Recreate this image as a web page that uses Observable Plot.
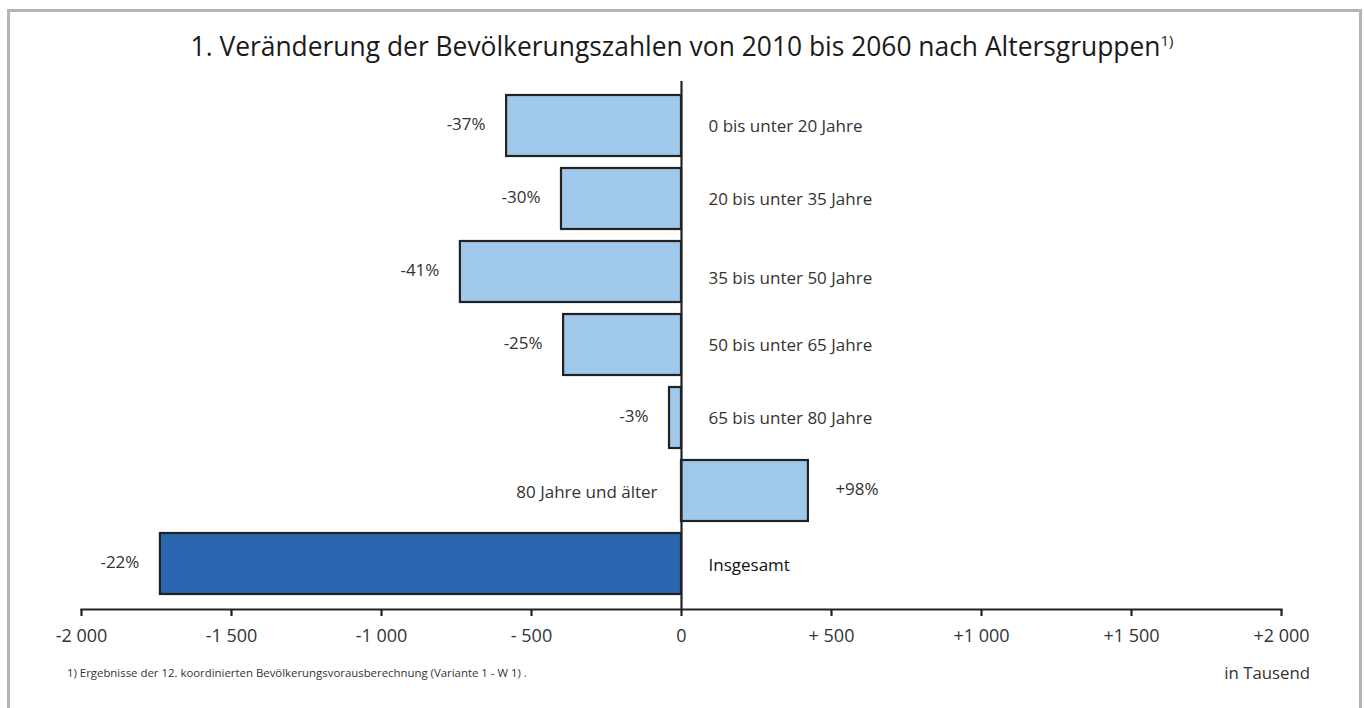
<!DOCTYPE html>
<html>
<head>
<meta charset="utf-8">
<script src="https://cdn.jsdelivr.net/npm/d3@7"></script>
<script src="https://cdn.jsdelivr.net/npm/@observablehq/plot@0.6"></script>
<style>
  html, body { margin: 0; padding: 0; background: #fff; }
  body { width: 1364px; height: 708px; position: relative; overflow: hidden; font-family: "Open Sans", "Noto Sans", sans-serif; color: #222; }
  #frame { position: absolute; left: 7px; top: 9px; width: 1355px; height: 740px; border: 3px solid #b5b5b5; box-sizing: border-box; }
  #title { position: absolute; left: 0; width: 1364px; top: 28px; text-align: center; font-size: 26.4px; color: #1a1a1a; }
  #title sup { font-size: 15px; vertical-align: 10px; }
  #chart { position: absolute; left: 0; top: 0; }
  #foot { position: absolute; left: 67px; top: 665px; font-size: 11.4px; color: #333; }
  #unit { position: absolute; right: 54px; top: 661px; font-size: 16.8px; color: #333; }
</style>
</head>
<body>
<div id="frame"></div>
<div id="title">1. Veränderung der Bevölkerungszahlen von 2010 bis 2060 nach Altersgruppen<sup>1)</sup></div>
<div id="chart"></div>
<div id="foot">1) Ergebnisse der 12. koordinierten Bevölkerungsvorausberechnung (Variante 1 - W 1) .</div>
<div id="unit">in Tausend</div>
<script>
const categories = ["0 bis unter 20 Jahre", "20 bis unter 35 Jahre", "35 bis unter 50 Jahre", "50 bis unter 65 Jahre", "65 bis unter 80 Jahre", "80 Jahre und älter", "Insgesamt"];
const changes = [-583, -400, -737, -393, -40, 423, -1737];
const percents = ["-37%", "-30%", "-41%", "-25%", "-3%", "+98%", "-22%"];
const groups = ["Alter", "Alter", "Alter", "Alter", "Alter", "Alter", "Gesamt"];
const tickValues = [-2000, -1500, -1000, -500, 0, 500, 1000, 1500, 2000];
const tickLabels = ["-2 000", "-1 500", "-1 000", "- 500", "0", "+ 500", "+1 000", "+1 500", "+2 000"];

const data = categories.map((c, i) => ({cat: c, v: changes[i], pct: percents[i], grp: groups[i]}));
const neg = data.filter(d => d.v < 0);
const pos = data.filter(d => d.v >= 0);
const negAge = neg.filter(d => d.grp === "Alter" && d.cat !== categories[2]);
const negAgeLow = neg.filter(d => d.cat === categories[2]);
const negTotal = neg.filter(d => d.grp === "Gesamt");

const txt = {fill: "#333", fontSize: 17};
const chart = Plot.plot({
  width: 1364,
  height: 708,
  marginLeft: 81,
  marginRight: 83,
  marginTop: 81,
  marginBottom: 99,
  style: {fontFamily: "'Open Sans', 'Noto Sans', sans-serif", fontSize: "17px", color: "#333", background: "transparent"},
  x: {domain: [-2000, 2000], label: null},
  y: {domain: categories, padding: 0.16, axis: null},
  color: {domain: ["Alter", "Gesamt"], range: ["#9fc8ea", "#2a67b0"]},
  marks: [
    Plot.barX(data, {x1: 0, x2: "v", y: "cat", fill: "grp", stroke: "#222", strokeWidth: 2.2}),
    Plot.ruleX([0], {stroke: "#222", strokeWidth: 2.2}),
    Plot.frame({anchor: "bottom", stroke: "#222", strokeWidth: 2.2}),
    Plot.axisX({ticks: tickValues, tickSize: 7, tickPadding: 13, strokeWidth: 2.2, stroke: "#222", fontSize: 18, fill: "#333", label: null,
      tickFormat: d => tickLabels[tickValues.indexOf(d)]}),
    // percent labels
    Plot.text(neg, {x: "v", y: "cat", text: "pct", textAnchor: "end", dx: -21, dy: -1, ...txt}),
    Plot.text(pos, {x: "v", y: "cat", text: "pct", textAnchor: "start", dx: 27, dy: -1, ...txt}),
    // category labels
    Plot.text(negAge, {x: 0, y: "cat", text: "cat", textAnchor: "start", dx: 27, dy: 1, ...txt}),
    Plot.text(negAgeLow, {x: 0, y: "cat", text: "cat", textAnchor: "start", dx: 27, dy: 7, ...txt}),
    Plot.text(negTotal, {x: 0, y: "cat", text: "cat", textAnchor: "start", dx: 27, dy: 2, fill: "#111", fontSize: 17, fontWeight: 500}),
    Plot.text(pos, {x: 0, y: "cat", text: "cat", textAnchor: "end", dx: -24, dy: 2, ...txt})
  ]
});
document.getElementById("chart").appendChild(chart);
</script>
</body>
</html>
